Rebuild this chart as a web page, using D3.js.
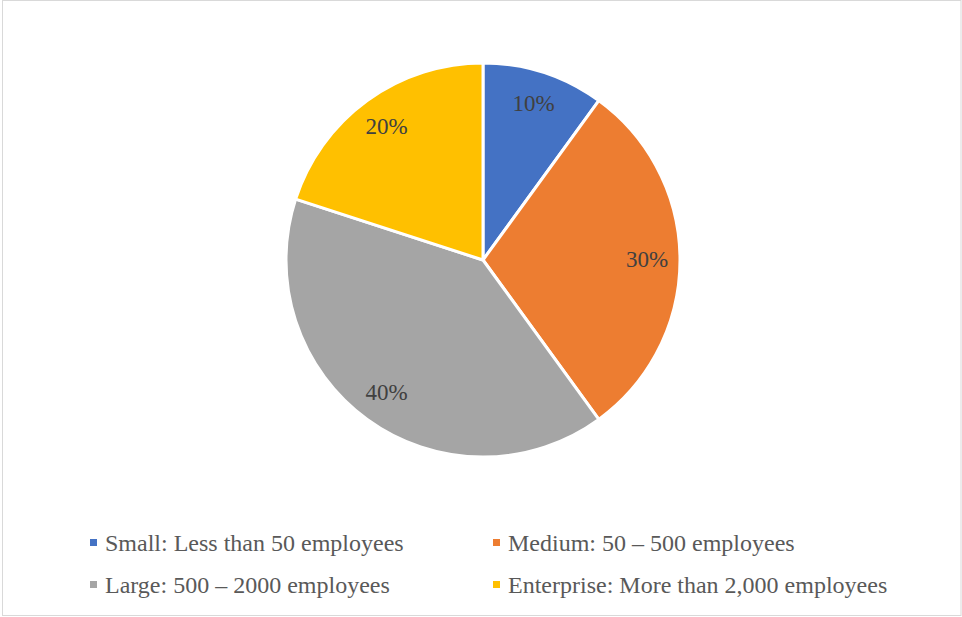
<!DOCTYPE html>
<html>
<head>
<meta charset="utf-8">
<script src="https://cdn.jsdelivr.net/npm/d3@7"></script>
<style>
  html, body { margin: 0; padding: 0; background: #fff; }
  svg { display: block; }
  text { font-family: "Liberation Serif", "Times New Roman", "DejaVu Serif", serif; }
</style>
</head>
<body>
<svg id="chart" width="962" height="617"></svg>
<script>
// Company size shares
const categories = [
  "Small: Less than 50 employees",
  "Medium: 50 – 500 employees",
  "Large: 500 – 2000 employees",
  "Enterprise: More than 2,000 employees"
];
const shares = [10, 30, 40, 20];
const labels = ["10%", "30%", "40%", "20%"];
const colors = ["#4472c4", "#ed7d31", "#a5a5a5", "#ffc000"];

const svg = d3.select("#chart");
const W = 962, H = 617;

// chart frame
svg.append("rect")
  .attr("x", 2.5).attr("y", 0.5)
  .attr("width", W - 3.5).attr("height", H - 2)
  .attr("fill", "#fff")
  .attr("stroke", "#d9d9d9")
  .attr("stroke-width", 1);

const cx = 483, cy = 260, r = 197;

const pie = d3.pie().sort(null).value(d => d);
const arcs = pie(shares);
const arc = d3.arc().innerRadius(0).outerRadius(r);
const labelArc = d3.arc().innerRadius(164).outerRadius(164);

const g = svg.append("g").attr("transform", `translate(${cx},${cy})`);

g.selectAll("path.slice")
  .data(arcs)
  .join("path")
  .attr("class", "slice")
  .attr("d", arc)
  .attr("fill", (d, i) => colors[i])
  .attr("stroke", "#fff")
  .attr("stroke-width", 3)
  .attr("stroke-linejoin", "round");

g.selectAll("text.lbl")
  .data(arcs)
  .join("text")
  .attr("class", "lbl")
  .attr("transform", d => `translate(${labelArc.centroid(d)})`)
  .attr("text-anchor", "middle")
  .attr("dy", "0.3em")
  .style("font-size", "23px")
  .attr("fill", "#404040")
  .text((d, i) => labels[i]);

// legend: two columns, two rows
const legX = [90, 493], legY = [543, 585];
const leg = svg.append("g");
categories.forEach((c, i) => {
  const x = legX[i % 2], y = legY[Math.floor(i / 2)];
  leg.append("rect")
    .attr("x", x).attr("y", y - 4)
    .attr("width", 7).attr("height", 7)
    .attr("fill", colors[i]);
  leg.append("text")
    .attr("x", x + 15).attr("y", y)
    .attr("dy", "0.33em")
    .style("font-size", "24px")
    .attr("fill", "#595959")
    .text(c);
});
</script>
</body>
</html>
